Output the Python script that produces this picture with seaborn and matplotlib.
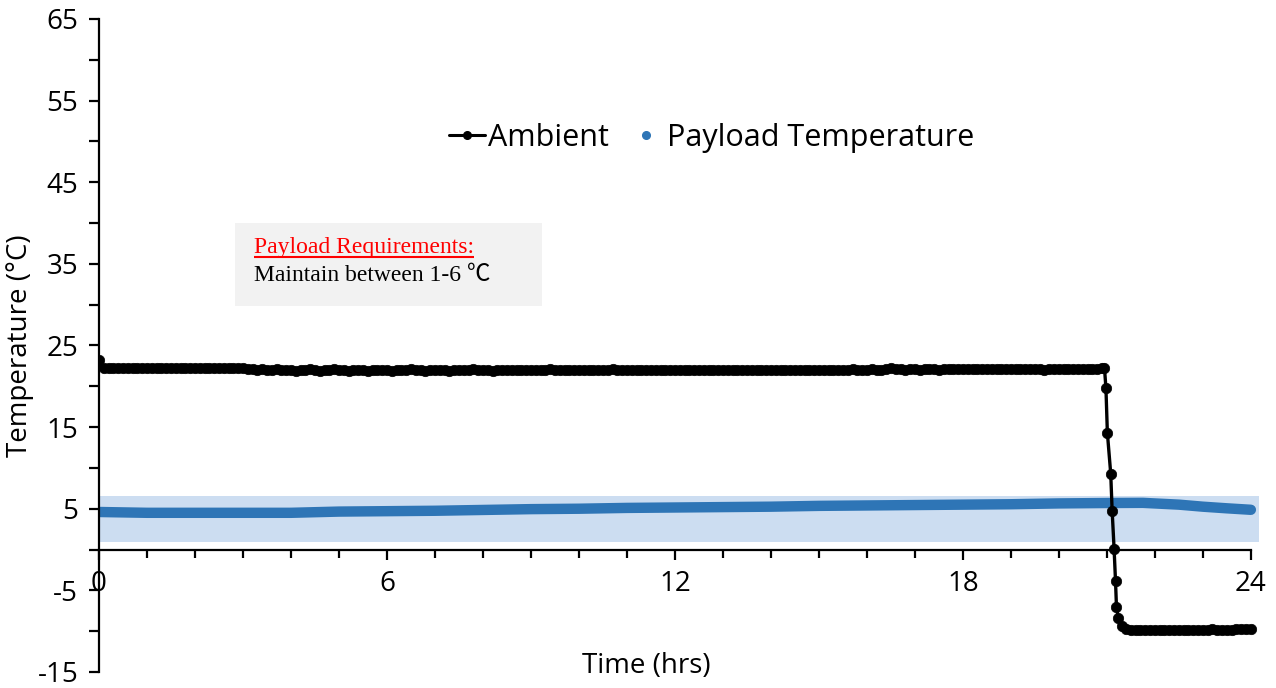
import numpy as np
import pandas as pd
import matplotlib
matplotlib.use("Agg")
import matplotlib.pyplot as plt
import seaborn as sns
from matplotlib.lines import Line2D
from matplotlib.patches import Rectangle

# ---------------- data ----------------
# Ambient temperature (deg C), logged every 0.1 h from 0.0 to 20.9 h
ambient_plateau_time = np.round(np.arange(0.0, 21.0, 0.1), 2)
ambient_plateau_temp = [
    23.2, 22.3, 22.2, 22.2, 22.3, 22.2, 22.2, 22.3, 22.2, 22.2,
    22.2, 22.3, 22.2, 22.2, 22.3, 22.3, 22.2, 22.2, 22.3, 22.2,
    22.2, 22.2, 22.3, 22.2, 22.2, 22.2, 22.3, 22.2, 22.2, 22.2,
    22.2, 22.1, 22.1, 22.0, 22.1, 22.0, 22.0, 22.1, 22.0, 22.0,
    22.0, 21.9, 22.0, 22.0, 22.1, 22.0, 21.9, 22.0, 22.0, 22.1,
    22.0, 22.0, 21.9, 22.0, 22.0, 22.0, 21.9, 22.0, 22.0, 22.0,
    22.0, 21.9, 22.0, 22.0, 22.0, 22.1, 22.0, 22.0, 21.9, 22.0,
    22.0, 22.0, 22.0, 21.9, 22.0, 22.0, 22.0, 22.0, 22.1, 22.0,
    22.0, 22.0, 21.9, 22.0, 22.0, 22.0, 22.0, 22.0, 22.0, 22.0,
    22.0, 22.0, 22.0, 22.0, 22.1, 22.0, 22.0, 22.0, 22.0, 22.0,
    22.0, 22.0, 22.0, 22.0, 22.0, 22.0, 22.0, 22.1, 22.0, 22.0,
    22.0, 22.0, 22.0, 22.0, 22.0, 22.0, 22.0, 22.0, 22.0, 22.0,
    22.0, 22.0, 22.0, 22.0, 22.0, 22.0, 22.0, 22.0, 22.0, 22.0,
    22.0, 22.0, 22.0, 22.0, 22.0, 22.0, 22.0, 22.0, 22.0, 22.0,
    22.0, 22.0, 22.0, 22.0, 22.0, 22.0, 22.0, 22.0, 22.0, 22.0,
    22.0, 22.0, 22.0, 22.0, 22.0, 22.0, 22.0, 22.1, 22.0, 22.0,
    22.0, 22.1, 22.0, 22.0, 22.1, 22.2, 22.1, 22.1, 22.0, 22.1,
    22.1, 22.0, 22.1, 22.1, 22.1, 22.0, 22.1, 22.1, 22.1, 22.1,
    22.1, 22.1, 22.1, 22.1, 22.1, 22.1, 22.1, 22.1, 22.1, 22.1,
    22.1, 22.1, 22.1, 22.1, 22.1, 22.1, 22.1, 22.0, 22.1, 22.1,
    22.1, 22.1, 22.1, 22.1, 22.1, 22.1, 22.1, 22.1, 22.1, 22.2,
]
# Ambient drop around 21 h
ambient_drop_time = [20.95, 20.98, 21.01, 21.08, 21.11, 21.15, 21.18, 21.20, 21.24, 21.31, 21.40]
ambient_drop_temp = [22.2, 19.8, 14.3, 9.3, 4.7, 0.1, -3.9, -7.1, -8.4, -9.4, -9.7]
# Ambient cold tail, every 0.1 h from 21.5 to 24.0 h
ambient_tail_time = np.round(np.arange(21.5, 24.05, 0.1), 2)
ambient_tail_temp = [
    -9.8, -9.8, -9.8, -9.8, -9.8, -9.8, -9.8, -9.8, -9.8, -9.8,
    -9.8, -9.8, -9.8, -9.8, -9.8, -9.8, -9.8, -9.7, -9.8, -9.8,
    -9.8, -9.8, -9.7, -9.7, -9.7, -9.7,
]

# Payload temperature (deg C)
payload_time = [0, 1, 2, 3, 4, 5, 6, 7, 8, 9, 10, 11, 12, 13, 14, 15, 16, 17,
                18, 19, 20, 21, 21.75, 22.5, 23.0, 23.5, 24.0]
payload_temp = [4.6, 4.5, 4.5, 4.5, 4.5, 4.65, 4.7, 4.75, 4.85, 4.95, 5.0, 5.1,
                5.15, 5.2, 5.25, 5.35, 5.4, 5.45, 5.5, 5.55, 5.65, 5.7, 5.72,
                5.5, 5.25, 5.05, 4.87]

# Requirement band (deg C)
band_low, band_high = 0.9, 6.6

y_ticks = [-15, -5, 5, 15, 25, 35, 45, 55, 65]
x_ticks = [0, 6, 12, 18, 24]

# ---------------- frames ----------------
amb = pd.DataFrame({
    "time": np.concatenate([ambient_plateau_time, ambient_drop_time, ambient_tail_time]),
    "temp": np.concatenate([ambient_plateau_temp, ambient_drop_temp, ambient_tail_temp]),
})
pay = pd.DataFrame({"time": payload_time, "temp": payload_temp})

# ---------------- style ----------------
sns.set_theme(style="white")
plt.rcParams["font.family"] = ["Open Sans", "DejaVu Sans"]
plt.rcParams["axes.unicode_minus"] = False

BLUE = "#2E75B6"
BAND = "#CCDDF1"

fig = plt.figure(figsize=(12.76, 6.88), dpi=100)
ax = fig.add_axes([0.0776, 0.0233, 0.9091, 0.9491])

ax.axhspan(band_low, band_high, color=BAND, zorder=0, lw=0)

sns.lineplot(data=pay, x="time", y="temp", ax=ax, color=BLUE, linewidth=7.5,
             solid_capstyle="round", zorder=2, sort=True, errorbar=None)
sns.lineplot(data=amb, x="time", y="temp", ax=ax, color="black", linewidth=2.4,
             marker="o", markersize=7.5, markeredgewidth=0.5,
             markeredgecolor="black", zorder=3, sort=True, errorbar=None)

ax.set_xlim(0, 24.17)
ax.set_ylim(-15, 65)

# spines
for s in ["top", "right"]:
    ax.spines[s].set_visible(False)
ax.spines["left"].set_linewidth(1.6)
ax.spines["bottom"].set_linewidth(1.6)
ax.spines["left"].set_color("black")
ax.spines["bottom"].set_color("black")
ax.spines["bottom"].set_position(("data", 0))
ax.spines["bottom"].set_bounds(0, 24.0)

ax.set_yticks(y_ticks)
ax.set_yticks([-10, 0, 10, 20, 30, 40, 50, 60], minor=True)
ax.set_xticks(x_ticks)
ax.set_xticks([h for h in range(25) if h % 6 != 0], minor=True)

ax.tick_params(axis="y", which="both", direction="out", length=7, width=1.6,
               colors="black", labelsize=20, pad=8, left=True)
ax.tick_params(axis="x", which="both", direction="out", length=6, width=1.6,
               colors="black", labelsize=20, pad=8, bottom=True)
ax.tick_params(axis="x", which="major", length=7)

ax.set_xlabel("Time (hrs)", fontsize=20, color="black")
ax.xaxis.set_label_coords(0.4716, 0.03)
ax.set_ylabel("Temperature (°C)", fontsize=20, color="black")
ax.yaxis.set_label_coords(-0.056, 0.5)

# legend
handles = [
    Line2D([], [], color="black", lw=2.2, marker="o", markersize=5.5),
    Line2D([], [], color=BLUE, lw=0, marker="o", markersize=5.5),
]
ax.legend(handles, ["Ambient", "Payload Temperature"], loc="center",
          bbox_to_anchor=(0.528, 0.818), ncol=2, frameon=False, fontsize=22,
          handlelength=1.2, handletextpad=0.1, columnspacing=0.6,
          labelcolor="black")

# requirement text box
ax.add_patch(Rectangle((0.117, 0.560), 0.265, 0.128, transform=ax.transAxes,
                       facecolor="#F2F2F2", edgecolor="none", zorder=1))
t1 = ax.text(0.134, 0.641, "Payload Requirements:", transform=ax.transAxes,
             fontsize=17, color="red", family="Liberation Serif",
             va="baseline", ha="left", zorder=4)
ax.text(0.134, 0.598, "Maintain between 1-6 \u2103", transform=ax.transAxes,
        fontsize=17, color="black",
        family=["Liberation Serif", "Noto Sans CJK JP", "DejaVu Sans"],
        va="baseline", ha="left", zorder=4)

# underline for the red heading
fig.canvas.draw()
bb = t1.get_window_extent()
inv = ax.transAxes.inverted()
(x0, y0) = inv.transform((bb.x0, bb.y0 + 1))
(x1, _) = inv.transform((bb.x1, bb.y0 + 1))
ax.plot([x0, x1], [y0, y0], transform=ax.transAxes, color="red", lw=1.5,
        zorder=4, solid_capstyle="butt")

fig.savefig("out.png", dpi=100)
